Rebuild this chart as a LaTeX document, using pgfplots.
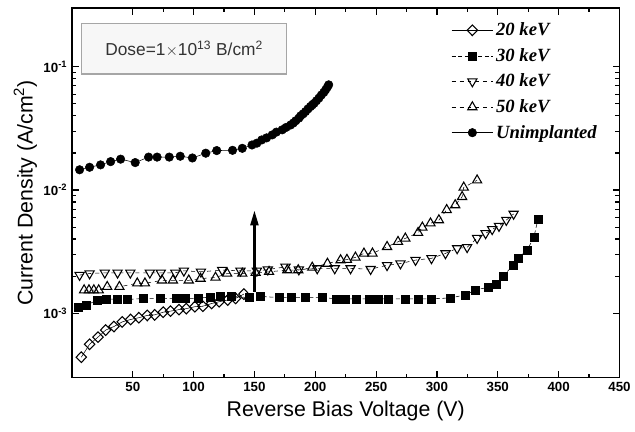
\documentclass[border=0pt]{standalone}
\usepackage{pgfplots}
\pgfplotsset{compat=1.18}
\usepackage{fontspec}
\setmainfont{Liberation Sans}
\newfontfamily\timesfont{Liberation Serif}
\usetikzlibrary{arrows.meta}

\begin{document}
\begin{tikzpicture}
\begin{axis}[
  name=ax,
  scale only axis,
  width=411pt, height=277.5pt,
  xmin=0, xmax=450,
  ymode=log, ymin=3e-4, ymax=0.3,
  xtick={50,100,...,450},
  minor x tick num=1,
  ytick={1e-3,1e-2,1e-1},
  yticklabels={10\textsuperscript{-3},10\textsuperscript{-2},10\textsuperscript{-1}},
  axis line style={line width=1.2pt},
  major tick length=5pt, minor tick length=3pt,
  every tick/.style={black, line width=0.9pt},
  tick label style={font=\bfseries\fontsize{10}{12}\selectfont},
  /pgf/number format/assume math mode=true,
  xlabel={Reverse Bias Voltage (V)},
  ylabel={Current Density (A/cm\textsuperscript{2})},
  label style={font=\fontsize{16}{18}\selectfont},
  ylabel style={yshift=-2pt},
  legend style={draw=none, fill=none, at={(0.685,0.975)}, anchor=north west,
    font=\timesfont\bfseries\itshape\fontsize{14}{16}\selectfont,
    row sep=4pt, legend cell align=left},
  legend image code/.code={\draw[mark repeat=2,mark phase=2]
    plot coordinates {(0cm,0cm) (0.55cm,0cm) (1.1cm,0cm)};},
]
% 20 keV
\addplot[black, line width=0.4pt, mark=diamond, mark size=4pt,
  mark options={solid, fill=white, line width=0.8pt, xscale=1.3}] coordinates {
  (7.7,4.4e-4) (14.5,5.6e-4) (21.4,6.4e-4) (27.7,7.3e-4) (34.5,7.8e-4)
  (41.3,8.5e-4) (48.2,8.9e-4) (55,9.2e-4) (61.9,9.6e-4) (68,9.7e-4)
  (75,1.02e-3) (81,1.04e-3) (88,1.07e-3) (94,1.09e-3) (101,1.13e-3)
  (107.6,1.14e-3) (114.8,1.2e-3) (121,1.24e-3) (128,1.28e-3) (134.5,1.32e-3)
  (141.3,1.43e-3)
};
\addlegendentry{20 keV}
% 30 keV
\addplot[black, line width=0.4pt, densely dashed, mark=square*, mark size=3pt,
  mark options={solid}] coordinates {
  (5,1.11e-3) (11.8,1.16e-3) (20.8,1.28e-3) (28,1.30e-3) (37,1.30e-3)
  (45.5,1.29e-3) (59,1.32e-3) (73,1.32e-3) (86,1.32e-3) (93.5,1.32e-3)
  (104,1.32e-3) (114,1.36e-3) (122,1.37e-3) (131,1.37e-3) (145.4,1.34e-3)
  (155,1.37e-3) (170,1.34e-3) (180,1.34e-3) (191.5,1.34e-3) (205.7,1.34e-3)
  (217,1.31e-3) (225,1.31e-3) (234,1.31e-3) (244,1.31e-3) (252,1.31e-3)
  (260,1.31e-3) (274,1.31e-3) (285,1.31e-3) (295,1.31e-3) (311,1.33e-3)
  (323.5,1.41e-3) (331.7,1.55e-3) (342,1.62e-3) (348.7,1.71e-3) (354.4,2.0e-3)
  (362.6,2.45e-3) (366.7,2.79e-3) (374,3.25e-3) (379.6,4.1e-3) (383,5.8e-3)
};
\addlegendentry{30 keV}
% 40 keV
\addplot[black, line width=0.4pt, dashed, mark=triangle, mark size=4pt,
  mark options={solid, rotate=180, line width=0.8pt, fill=white}] coordinates {
  (6.3,2.04e-3) (14.5,2.1e-3) (27,2.13e-3) (37.5,2.13e-3) (48,2.13e-3)
  (64,2.13e-3) (73,2.13e-3) (85,2.13e-3) (92,2.21e-3) (106,2.17e-3)
  (123.5,2.24e-3) (138.5,2.21e-3) (152,2.21e-3) (161,2.26e-3) (175.5,2.38e-3)
  (186.5,2.26e-3) (201.6,2.31e-3) (216,2.31e-3) (229,2.31e-3) (245.5,2.28e-3)
  (259,2.45e-3) (270,2.53e-3) (282.4,2.70e-3) (295.5,2.79e-3) (307,3.06e-3)
  (316.6,3.36e-3) (324.8,3.43e-3) (333,4.07e-3) (340,4.45e-3) (345.4,4.8e-3)
  (351,5.1e-3) (357,5.7e-3) (363,6.4e-3)
};
\addlegendentry{40 keV}
% 50 keV
\addplot[black, line width=0.4pt, dashed, mark=triangle, mark size=4pt,
  mark options={solid, line width=0.8pt, fill=white}] coordinates {
  (10,1.54e-3) (14,1.54e-3) (18,1.54e-3) (22,1.54e-3) (29,1.64e-3)
  (39,1.64e-3) (53.7,1.75e-3) (60,1.75e-3) (74,1.85e-3) (83,1.85e-3)
  (96,1.85e-3) (105.7,1.91e-3) (118,1.95e-3) (127.6,2.1e-3) (140,2.1e-3)
  (151,2.13e-3) (162,2.17e-3) (177,2.24e-3) (186,2.24e-3) (197.5,2.35e-3)
  (210,2.53e-3) (220.8,2.70e-3) (226,2.72e-3) (233,2.84e-3) (240,3.06e-3)
  (247,3.06e-3) (259,3.46e-3) (268,3.80e-3) (274,4.05e-3) (284.5,4.5e-3)
  (288,4.97e-3) (294.7,5.37e-3) (301.6,5.7e-3) (308,6.9e-3) (315,7.55e-3)
  (320.7,8.8e-3) (322,1.05e-2) (333,1.2e-2)
};
\addlegendentry{50 keV}
% Unimplanted
\addplot[black, line width=0.4pt, mark=*, mark size=3.2pt] coordinates {
  (6.3,0.0146) (14.5,0.0153) (23.5,0.0160) (31.8,0.0170) (40,0.0178)
  (52,0.0167) (63,0.0185) (70,0.0185) (80,0.0185) (89,0.0188)
  (99,0.0182) (110,0.0199) (119,0.0209) (132,0.0210) (140,0.0218)
  (148,0.0232) (152,0.0240) (156,0.0255) (160,0.0265) (164.6,0.0280)
  (168,0.0295) (172.8,0.0308) (176,0.0322) (179.7,0.0337) (182,0.0350)
  (184,0.0365) (186.5,0.0383) (188,0.0400) (190,0.0415) (192,0.0433)
  (194,0.0455) (196,0.0475) (197.5,0.0490) (199,0.0505) (201,0.0530)
  (203,0.0557) (205,0.0590) (207,0.0620) (208.5,0.0650) (210,0.0685)
  (211,0.0714)
};
\addlegendentry{Unimplanted}
\draw[-{Triangle[length=11pt,width=6pt]}, line width=1.6pt]
  (axis cs:150,1.5e-3) -- (axis cs:150,6.8e-3);
\node[draw=gray!70, line width=0.8pt, fill=gray!6, minimum width=154pt,
  minimum height=38pt, text=black!80, font=\fontsize{13}{15}\selectfont]
  at (rel axis cs:0.205,0.89) {Dose=1$\times$10\textsuperscript{13} B/cm\textsuperscript{2}};
\end{axis}
\path ([xshift=-54pt,yshift=-40.5pt]ax.south west) rectangle ([xshift=11pt,yshift=6pt]ax.north east);
\end{tikzpicture}
\end{document}
